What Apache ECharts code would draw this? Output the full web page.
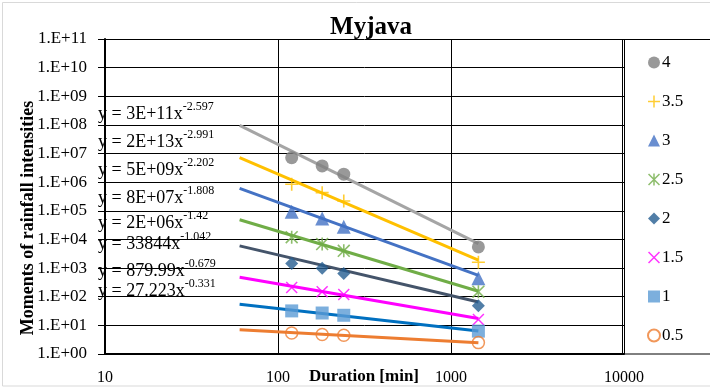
<!DOCTYPE html>
<html>
<head>
<meta charset="utf-8">
<script src="https://cdn.jsdelivr.net/npm/echarts@6/dist/echarts.min.js"></script>
<style>
  html, body { margin: 0; padding: 0; background: #ffffff; }
  #chart { width: 710px; height: 388px; }
</style>
</head>
<body>
<div id="chart"></div>
<script>
// Durations [min] at which the moments were evaluated
const durations = [120, 180, 240, 1440];

// Moment orders (legend entries)
const seriesNames = ['4', '3.5', '3', '2.5', '2', '1.5', '1', '0.5'];

// Moments of rainfall intensities for each order
const q4  = [7.2e6, 3.7e6, 1.9e6, 5.5e3];
const q35 = [8.5e5, 4.3e5, 2.2e5, 1.6e3];
const q3  = [9.3e4, 5.4e4, 2.75e4, 4.4e2];
const q25 = [1.2e4, 6.9e3, 4.0e3, 1.5e2];
const q2  = [1.45e3, 9.8e2, 6.5e2, 48];
const q15 = [2.1e2, 1.5e2, 1.2e2, 16];
const q1  = [32, 27, 22.5, 6.3];
const q05 = [5.4, 4.8, 4.5, 2.5];

// Power-law trend lines y = a * x^b (same order as seriesNames)
const trendCoef = [2e13, 3e11, 5e9, 8e7, 2e6, 33844, 879.99, 27.223];
const trendExp  = [-2.991, -2.597, -2.202, -1.808, -1.42, -1.042, -0.679, -0.331];
const trendCoefText = ['2E+13', '3E+11', '5E+09', '8E+07', '2E+06', '33844', '879.99', '27.223'];
const trendExpText  = ['-2.991', '-2.597', '-2.202', '-1.808', '-1.42', '-1.042', '-0.679', '-0.331'];
const trendRange = [60, 1440];
// Order in which the equations are stacked in the left margin
const equationOrder = [1, 0, 2, 3, 4, 5, 6, 7];

// Axis tick labels
const xTickLabels = ['10', '100', '1000', '10000'];
const yTickLabels = ['1.E+00', '1.E+01', '1.E+02', '1.E+03', '1.E+04', '1.E+05',
                     '1.E+06', '1.E+07', '1.E+08', '1.E+09', '1.E+10', '1.E+11'];

const seriesValues = [q4, q35, q3, q25, q2, q15, q1, q05];

const FONT = '"Liberation Serif", "Times New Roman", serif';

const lineColors   = ['#A5A5A5', '#FFC000', '#4472C4', '#70AD47', '#44546A', '#FF00FF', '#0070C0', '#ED7D31'];
const markerColors = ['#7F7F7F', '#FFC000', '#4472C4', '#70AD47', '#255E91', '#FF00FF', '#5B9BD5', '#ED7D31'];

const PLUS = 'path://M5.25,0H6.75V5.25H12V6.75H6.75V12H5.25V6.75H0V5.25H5.25Z';
const CROSS = 'path://M0,1.06L1.06,0L12,10.94L10.94,12Z M10.94,0L12,1.06L1.06,12L0,10.94Z';
const STAR = 'path://M0,1.06L1.06,0L12,10.94L10.94,12Z M10.94,0L12,1.06L1.06,12L0,10.94Z M5.25,0L6.75,0L6.75,12L5.25,12Z';

const markerStyles = [
  { symbol: 'circle', size: 13 },
  { symbol: PLUS, size: 13 },
  { symbol: 'triangle', size: 14 },
  { symbol: STAR, size: 13 },
  { symbol: 'diamond', size: 13 },
  { symbol: CROSS, size: 12 },
  { symbol: 'rect', size: 13 },
  { symbol: 'circle', size: 12, hollow: true }
];

const chart = echarts.init(document.getElementById('chart'), null, { renderer: 'canvas' });

const series = [];

// Trend lines (drawn first, underneath the markers)
seriesNames.forEach(function (name, i) {
  series.push({
    name: 'trend ' + name,
    type: 'line',
    data: trendRange.map(function (x) { return [x, trendCoef[i] * Math.pow(x, trendExp[i])]; }),
    symbol: 'none',
    silent: true,
    lineStyle: { color: lineColors[i], width: 3 },
    z: 2
  });
});

// Measured moments
seriesNames.forEach(function (name, i) {
  const m = markerStyles[i];
  series.push({
    name: name,
    type: 'scatter',
    data: durations.map(function (d, k) { return [d, seriesValues[i][k]]; }),
    symbol: m.symbol,
    symbolSize: m.size,
    itemStyle: m.hollow
      ? { color: 'rgba(255,255,255,0)', borderColor: markerColors[i], borderWidth: 1.5 }
      : { color: markerColors[i] },
    z: 3
  });
});

const equationY = [112, 140, 168, 196, 221, 242, 269, 289];
const equationTexts = equationOrder.map(function (idx, k) {
  return {
    type: 'text',
    left: 98,
    top: equationY[k] - 11,
    z: 1,
    style: {
      text: '{m|y = ' + trendCoefText[idx] + 'x}{s|' + trendExpText[idx] + '}',
      rich: {
        m: { fontFamily: FONT, fontSize: 18, fill: '#000', lineHeight: 22, verticalAlign: 'bottom' },
        s: { fontFamily: FONT, fontSize: 12, fill: '#000', lineHeight: 22, verticalAlign: 'top', padding: [0, 0, 9, 0] }
      }
    }
  };
});

const option = {
  backgroundColor: '#ffffff',
  animation: false,
  title: {
    text: 'Myjava',
    left: 366,
    top: 10,
    textAlign: 'center',
    textStyle: { fontFamily: FONT, fontWeight: 'bold', fontSize: 25, color: '#000' }
  },
  grid: { left: 105, right: 86, top: 39, bottom: 34, containLabel: false, outerBoundsMode: 'none' },
  legend: {
    orient: 'vertical',
    left: 647,
    top: 54,
    itemWidth: 12,
    itemHeight: 12,
    itemGap: 22,
    padding: 0,
    data: seriesNames,
    textStyle: { fontFamily: FONT, fontSize: 17, color: '#000', padding: [0, 0, 0, -3] },
    selectedMode: false
  },
  xAxis: {
    type: 'log',
    logBase: 10,
    min: 10,
    max: 10000,
    interval: 1,
    axisLine: { show: true, lineStyle: { color: '#000', width: 2 } },
    axisTick: { show: false },
    splitLine: { show: true, lineStyle: { color: '#000', width: 1 } },
    axisLabel: {
      fontFamily: FONT, fontSize: 16, color: '#000', margin: 16,
      formatter: function (v) { return xTickLabels[Math.round(Math.log10(v)) - 1]; }
    }
  },
  yAxis: {
    type: 'log',
    logBase: 10,
    min: 1,
    max: 1e11,
    interval: 1,
    axisLine: { show: true, lineStyle: { color: '#000', width: 2 } },
    axisTick: { show: true, length: 7, lineStyle: { color: '#000', width: 1 } },
    splitLine: { show: true, lineStyle: { color: '#000', width: 1 } },
    axisLabel: {
      fontFamily: FONT, fontSize: 17, color: '#000', margin: 18,
      formatter: function (v) { return yTickLabels[Math.round(Math.log10(v))]; }
    }
  },
  graphic: [
    {
      type: 'rect',
      shape: { x: 2.5, y: 2.5, width: 720, height: 383.5 },
      style: { fill: 'none', stroke: '#D9D9D9', lineWidth: 1 },
      silent: true,
      z: -10
    },
    {
      type: 'rect',
      shape: { x: 622.5, y: 39.5, width: 100, height: 314.5 },
      style: { fill: 'none', stroke: '#000', lineWidth: 1 },
      silent: true
    },
    {
      type: 'text',
      x: 28,
      y: 218,
      rotation: Math.PI / 2,
      style: {
        text: 'Moments of rainfall intensities',
        fontFamily: FONT, fontWeight: 'bold', fontSize: 18, fill: '#000',
        align: 'center', verticalAlign: 'middle'
      }
    },
    {
      type: 'text',
      x: 364,
      y: 377,
      style: {
        text: 'Duration [min]',
        fontFamily: FONT, fontWeight: 'bold', fontSize: 17, fill: '#000',
        align: 'center', verticalAlign: 'middle'
      }
    }
  ].concat(equationTexts),
  series: series
};

chart.setOption(option);
</script>
</body>
</html>
